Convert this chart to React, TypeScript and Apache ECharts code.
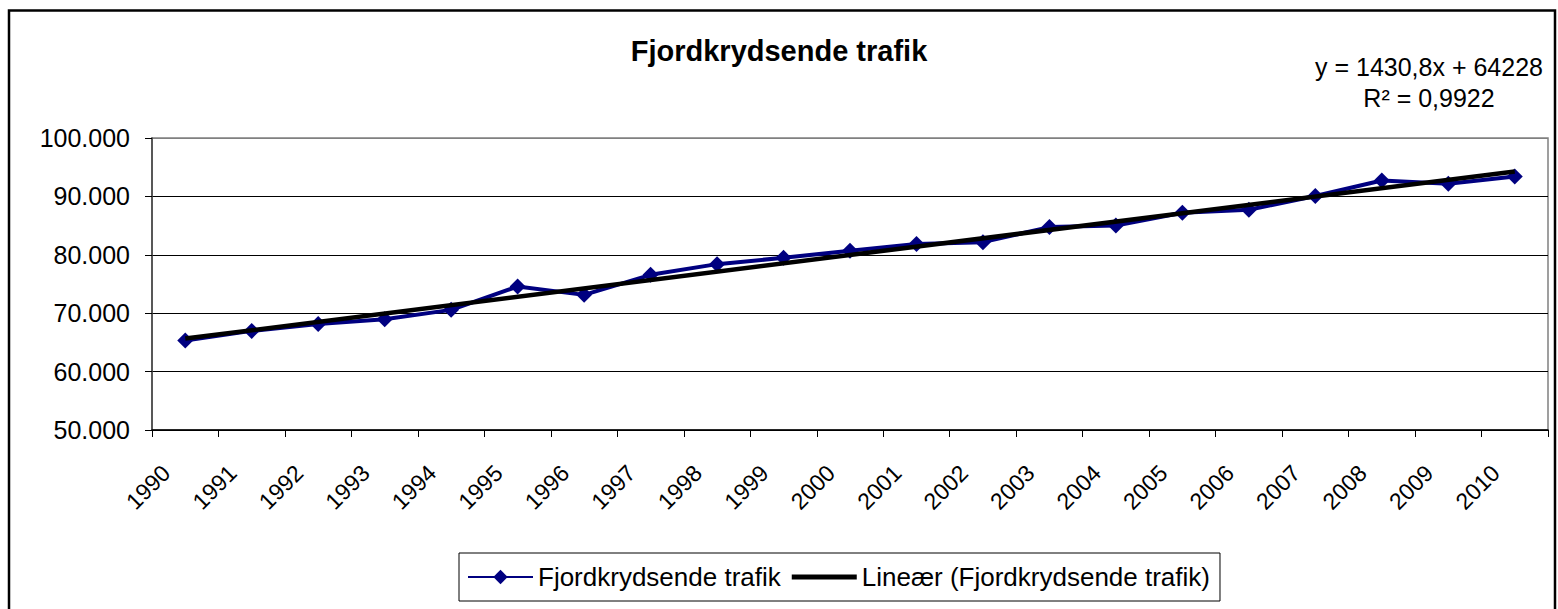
import React, { useEffect, useRef } from 'react';
import * as echarts from 'echarts';

const years = [
  '1990', '1991', '1992', '1993', '1994', '1995', '1996', '1997', '1998', '1999', '2000',
  '2001', '2002', '2003', '2004', '2005', '2006', '2007', '2008', '2009', '2010',
];
const traffic = [
  65310, 66970, 68170, 68975, 70570, 74560, 73140, 76570, 78400, 79480, 80680,
  81830, 82170, 84740, 85020, 87200, 87710, 90060, 92730, 92170, 93420,
];
// Linear trend line endpoints (from y = 1430,8x + 64228 at x = 1 and x = 21)
const trendStart = 65659;
const trendEnd = 94275;

const titleText = 'Fjordkrydsende trafik';
const seriesName = 'Fjordkrydsende trafik';
const trendName = 'Lineær (Fjordkrydsende trafik)';
const equationLine1 = 'y = 1430,8x + 64228';
const equationLine2 = 'R² = 0,9922';

const yMin = 50000;
const yMax = 100000;
const yStep = 10000;

const FONT = '"Liberation Sans", Arial, Helvetica, sans-serif';

const fmt = (v: number) => String(v).replace(/\B(?=(\d{3})+(?!\d))/g, '.');

export default function App() {
  const ref = useRef<HTMLDivElement>(null);
  useEffect(() => {
    if (!ref.current) return;
    const chart = echarts.init(ref.current, undefined, { renderer: 'svg' });
    const trendData = years.map((_, i) =>
      i === 0 ? trendStart : i === years.length - 1 ? trendEnd : null
    );
    chart.setOption({
      animation: false,
      backgroundColor: '#fff',
      textStyle: { fontFamily: FONT },
      title: {
        text: titleText,
        left: 'center',
        top: 31,
        textStyle: { fontSize: 29, fontWeight: 'bold', color: '#000', fontFamily: FONT },
      },
      grid: {
        left: 152,
        right: 10,
        top: 138,
        bottom: 179,
        show: true,
        borderColor: '#808080',
        borderWidth: 1.5,
        backgroundColor: '#fff',
      },
      xAxis: {
        type: 'category',
        data: years,
        boundaryGap: true,
        axisLine: { show: true, lineStyle: { color: '#000', width: 1.5 } },
        axisTick: { show: true, length: 7, interval: 0, lineStyle: { color: '#000', width: 1 } },
        axisLabel: {
          interval: 0,
          rotate: 45,
          fontSize: 23,
          color: '#000',
          fontFamily: FONT,
          margin: 20,
          padding: [0, 27, 0, 0],
        },
        splitLine: { show: false },
      },
      yAxis: {
        type: 'value',
        min: yMin,
        max: yMax,
        interval: yStep,
        axisLine: { show: true, lineStyle: { color: '#404040', width: 1.5 } },
        axisTick: { show: true, length: 7, lineStyle: { color: '#000', width: 1 } },
        axisLabel: { fontSize: 25, color: '#000', margin: 22, fontFamily: FONT, formatter: fmt },
        splitLine: {
          show: true,
          lineStyle: { color: ['#000', '#000', '#000', '#000', '#000', '#808080'], width: 1 },
        },
      },
      legend: {
        data: [
          { name: seriesName },
          { name: trendName, icon: 'path://M0,0L65,0L65,5L0,5Z' },
        ],
        left: 459,
        top: 553,
        orient: 'horizontal',
        borderColor: '#000',
        borderWidth: 1,
        padding: [11, 10, 11, 8],
        itemWidth: 65,
        itemHeight: 18,
        itemGap: 11,
        textStyle: { fontSize: 26, color: '#000', fontFamily: FONT },
      },
      series: [
        {
          type: 'line',
          name: seriesName,
          data: traffic,
          symbol: 'diamond',
          symbolSize: 16,
          color: '#000080',
          itemStyle: { color: '#000080' },
          lineStyle: { color: '#000080', width: 4 },
          z: 2,
        },
        {
          type: 'line',
          name: trendName,
          data: trendData,
          connectNulls: true,
          symbol: 'none',
          showSymbol: false,
          color: '#000',
          itemStyle: { color: '#000' },
          lineStyle: { color: '#000', width: 4.5 },
          z: 3,
        },
      ],
      graphic: [
        {
          type: 'rect',
          silent: true,
          z: 0,
          shape: { x: 9, y: 10.5, width: 1546, height: 660 },
          style: { fill: 'none', stroke: '#000', lineWidth: 2.5 },
        },
        {
          type: 'text',
          x: 1429,
          y: 67,
          style: {
            text: equationLine1,
            fontSize: 25,
            fontFamily: FONT,
            fill: '#000',
            align: 'center',
            verticalAlign: 'middle',
            textAlign: 'center',
            textVerticalAlign: 'middle',
          },
        },
        {
          type: 'text',
          x: 1429,
          y: 98,
          style: {
            text: equationLine2,
            fontSize: 25,
            fontFamily: FONT,
            fill: '#000',
            align: 'center',
            verticalAlign: 'middle',
            textAlign: 'center',
            textVerticalAlign: 'middle',
          },
        },
      ],
    });
    return () => chart.dispose();
  }, []);
  return (
    <div
      ref={ref}
      style={{ position: 'fixed', left: 0, top: 0, width: 1558, height: 609 }}
    />
  );
}
